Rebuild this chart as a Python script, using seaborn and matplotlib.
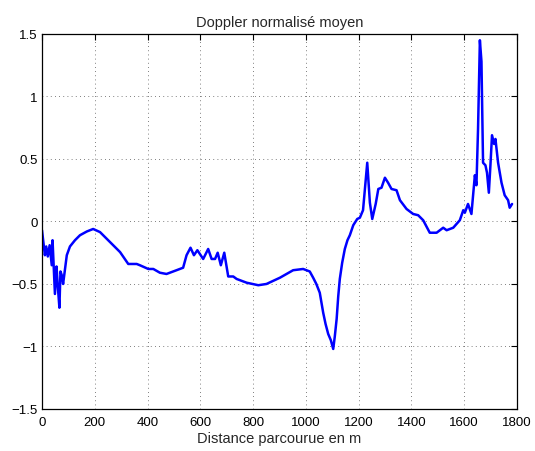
import numpy as np
import pandas as pd
import matplotlib
matplotlib.use("Agg")
import matplotlib.pyplot as plt
import seaborn as sns

# ---------------- DATA ----------------
distance = [0, 11, 16, 22, 29, 37, 40, 49, 55, 60, 66, 70, 75, 80, 94, 106, 125, 144,
            170, 194, 220, 258, 296, 327, 359, 371, 403, 422, 447, 472, 510, 535,
            548, 563, 576, 589, 611, 630, 643, 656, 666, 678, 691, 706, 725, 738,
            776, 820, 851, 902, 952, 990, 1015, 1028, 1040, 1053, 1066, 1075, 1085,
            1095, 1104, 1110, 1117, 1123, 1129, 1138, 1148, 1158, 1167, 1180, 1195,
            1205, 1217, 1233, 1243, 1252, 1265, 1275,
            1287, 1300, 1312, 1325, 1344, 1357, 1382, 1407, 1426, 1445, 1470, 1496,
            1521, 1534, 1559, 1584, 1597, 1603, 1615, 1628, 1641, 1647, 1653, 1660,
            1666, 1672, 1681, 1687, 1694, 1700, 1706, 1714, 1719, 1729, 1742, 1754,
            1767, 1773, 1782]
doppler = [-0.07, -0.27, -0.20, -0.28, -0.19, -0.35, -0.15, -0.58, -0.36, -0.52, -0.69,
           -0.40, -0.43, -0.50, -0.27, -0.20, -0.15, -0.11, -0.08, -0.06, -0.085,
           -0.165, -0.245, -0.34, -0.34, -0.35, -0.38, -0.38, -0.41, -0.42, -0.39,
           -0.37, -0.27, -0.21, -0.27, -0.23, -0.30, -0.22, -0.30, -0.30, -0.25,
           -0.35, -0.25, -0.44, -0.44, -0.46, -0.49, -0.51, -0.50, -0.45, -0.39,
           -0.38, -0.40, -0.45, -0.50, -0.57, -0.73, -0.82, -0.90, -0.95, -1.02,
           -0.92, -0.78, -0.60, -0.46, -0.33, -0.22, -0.15,
           -0.11, -0.03, 0.02, 0.03, 0.09, 0.47, 0.15, 0.02, 0.14, 0.26, 0.27, 0.35,
           0.31, 0.26, 0.25, 0.17, 0.10, 0.06, 0.05, 0.01, -0.09, -0.09, -0.05,
           -0.07, -0.05, 0.01, 0.09, 0.07, 0.14, 0.06, 0.37, 0.29, 0.74, 1.45, 1.28,
           0.47, 0.45, 0.39, 0.23, 0.45, 0.69, 0.62, 0.66, 0.47, 0.31, 0.21, 0.17,
           0.11, 0.14]

x_ticks = [0, 200, 400, 600, 800, 1000, 1200, 1400, 1600, 1800]
y_ticks = [-1.5, -1, -0.5, 0, 0.5, 1, 1.5]
y_labels = ["\u22121.5", "\u22121", "\u22120.5", "0", "0.5", "1", "1.5"]

df = pd.DataFrame({"distance": distance, "doppler": doppler})

# ---------------- STYLE ----------------
sns.set_style("white")
plt.rcParams["font.family"] = ["Liberation Sans", "DejaVu Sans"]

fig = plt.figure(figsize=(5.35, 4.52), dpi=100)
ax = fig.add_axes([0.0785, 0.093, 0.8875, 0.8296])

sns.lineplot(data=df, x="distance", y="doppler", color="#0000ff",
             linewidth=1.8, ax=ax)

ax.set_xlim(0, 1800)
ax.set_ylim(-1.5, 1.5)
ax.set_xticks(x_ticks)
ax.set_yticks(y_ticks)
ax.set_yticklabels(y_labels)
ax.grid(True, linestyle=(0, (1, 4)), color="#555555", linewidth=0.6)
ax.tick_params(direction="in", top=True, right=True, labelsize=9.5,
               length=4, width=0.8, colors="black", pad=3)
ax.tick_params(axis="x", pad=5)
for s in ax.spines.values():
    s.set_color("black")
    s.set_linewidth(0.9)

ax.set_title("Doppler normalisé moyen", fontsize=10.5, pad=6)
ax.set_xlabel("Distance parcourue en m", fontsize=10.5, labelpad=2)
ax.set_ylabel("")

fig.savefig("out.png", dpi=100)
